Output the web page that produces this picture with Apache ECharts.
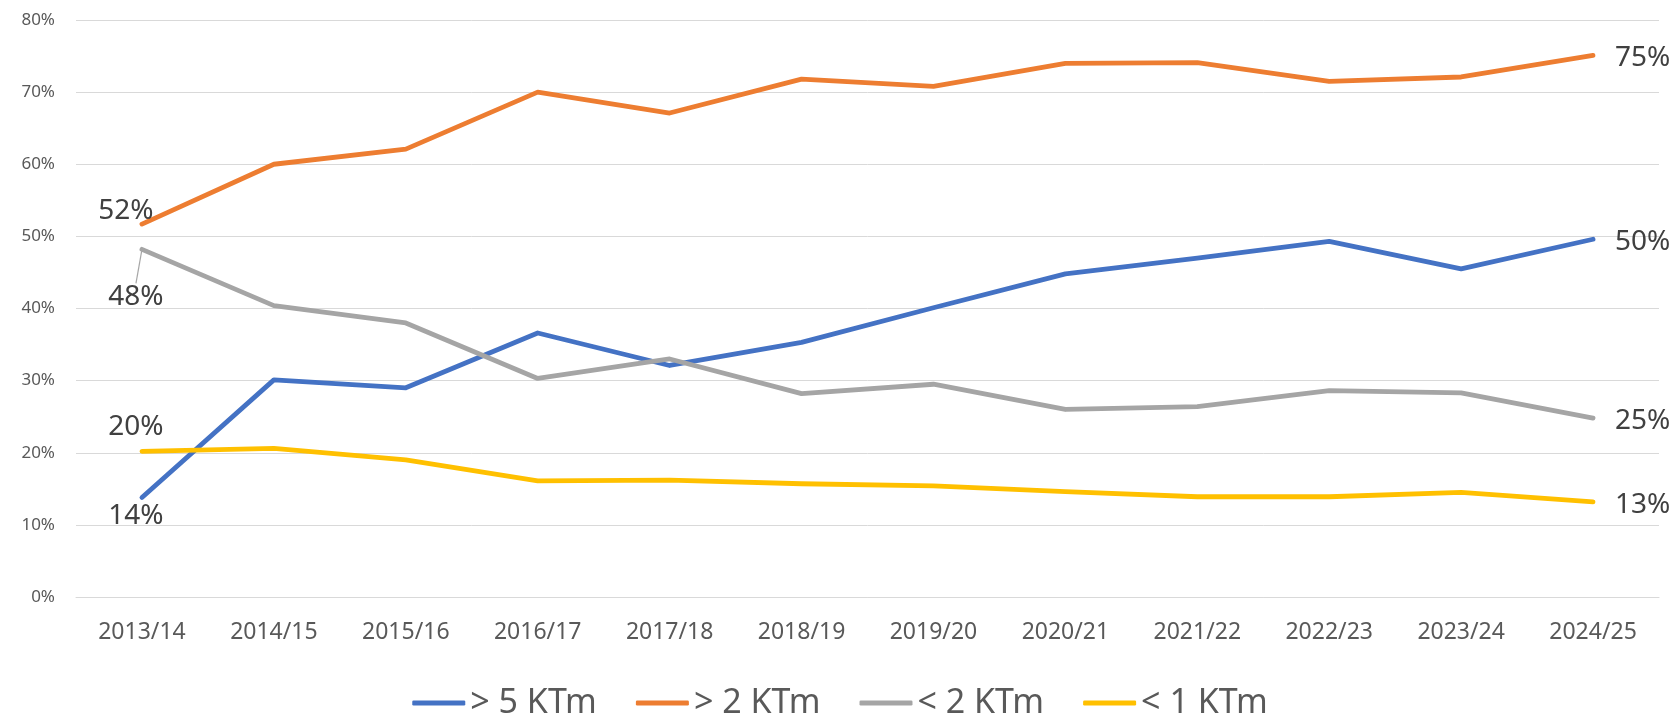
<!DOCTYPE html>
<html>
<head>
<meta charset="utf-8">
<script src="https://cdn.jsdelivr.net/npm/echarts@6/dist/echarts.min.js"></script>
<style>
  html, body { margin: 0; padding: 0; background: #fff; }
  #chart { width: 1680px; height: 713px; }
</style>
</head>
<body>
<div id="chart"></div>
<script>
var seasons = ['2013/14', '2014/15', '2015/16', '2016/17', '2017/18', '2018/19',
               '2019/20', '2020/21', '2021/22', '2022/23', '2023/24', '2024/25'];
var over5 = [13.8, 30.1, 29.0, 36.6, 32.1, 35.3, 40.1, 44.8, 47.0, 49.3, 45.5, 49.6];
var over2 = [51.7, 60.0, 62.1, 70.0, 67.1, 71.8, 70.8, 74.0, 74.1, 71.5, 72.1, 75.1];
var under2 = [48.2, 40.4, 38.0, 30.3, 33.0, 28.2, 29.5, 26.0, 26.4, 28.6, 28.3, 24.8];
var under1 = [20.2, 20.6, 19.0, 16.1, 16.2, 15.7, 15.4, 14.6, 13.9, 13.9, 14.5, 13.2];
var seriesNames = ['> 5 KTm', '> 2 KTm', '< 2 KTm', '< 1 KTm'];
var colors = ['#4472C4', '#ED7D31', '#A5A5A5', '#FFC000'];

var font = '"Noto Sans", "Open Sans", sans-serif';

// offset of the first value's label from its point
var firstOffset = [[-6, 19], [-16, -13], [-6, 48], [-6, -24]];

function buildData(values, idx) {
    var last = values.length - 1;
    return values.map(function(v, i) {
        if (i === 0) {
            var item = { value: v, label: { show: true, position: firstOffset[idx], align: 'center' } };
            if (idx === 2) {
                // 48% sits a bit lower, with a small leader line
                item.label.padding = [17, 0, 0, 0];
                item.labelLine = { show: true, lineStyle: { color: '#A6A6A6', width: 1.2 } };
            }
            return item;
        }
        if (i === last) {
            return { value: v, label: { show: true, position: [22, 3], align: 'left' } };
        }
        return v;
    });
}

var chart = echarts.init(document.getElementById('chart'));

var series = [over5, over2, under2, under1].map(function(vals, idx) {
    return {
        name: seriesNames[idx],
        type: 'line',
        data: buildData(vals, idx),
        symbol: 'circle',
        symbolSize: 0,
        showSymbol: true,
        lineStyle: { color: colors[idx], width: 4.8, cap: 'round', join: 'round' },
        itemStyle: { color: colors[idx] },
        label: {
            show: false,
            formatter: function(p) { return Math.round(p.value) + '%'; },
            color: '#404040',
            fontSize: 28,
            fontFamily: font,
            verticalAlign: 'middle'
        },
        emphasis: { disabled: true },
        animation: false
    };
});

chart.setOption({
    backgroundColor: '#ffffff',
    animation: false,
    grid: { left: 76, right: 21, top: 20, bottom: 116 },
    legend: {
        data: seriesNames,
        left: 'center',
        top: 678,
        icon: 'roundRect',
        itemWidth: 53,
        itemHeight: 5,
        itemGap: 39,
        textStyle: { fontSize: 34, fontFamily: font, color: '#595959', lineHeight: 40 }
    },
    xAxis: {
        type: 'category',
        data: seasons,
        boundaryGap: true,
        axisLine: { show: true, lineStyle: { color: '#D9D9D9', width: 1 } },
        axisTick: { show: false },
        axisLabel: { color: '#595959', fontSize: 23, fontFamily: font, margin: 24, lineHeight: 23, interval: 0 },
        splitLine: { show: false }
    },
    yAxis: {
        type: 'value',
        min: 0,
        max: 80,
        interval: 10,
        axisLine: { show: false },
        axisTick: { show: false },
        axisLabel: { formatter: '{value}%', color: '#595959', fontSize: 17, fontFamily: font, margin: 21 },
        splitLine: { lineStyle: { color: '#D9D9D9', width: 1 } }
    },
    series: series
});
</script>
</body>
</html>
